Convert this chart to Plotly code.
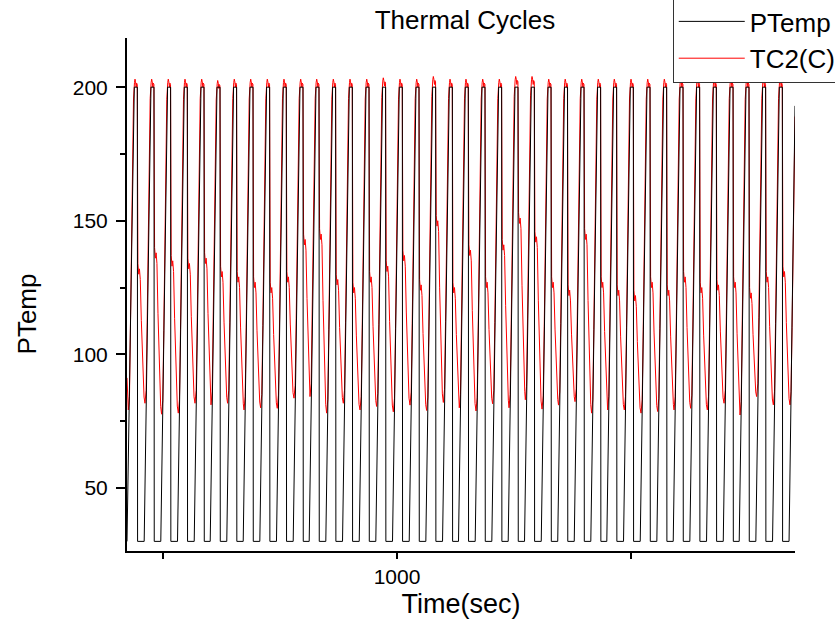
import plotly.graph_objects as go

# ---- Per-cycle readings (time in s, temperature in C) ----
# time of each TC2 peak
peak_time = [440.2, 475.8, 511.3, 547.0, 582.7, 616.9, 652.3, 687.4, 722.9, 758.5,
             794.2, 828.4, 863.9, 899.6, 935.3, 970.7, 1006.4, 1042.1, 1077.6, 1113.3,
             1147.4, 1183.1, 1218.6, 1253.6, 1288.5, 1324.2, 1359.4, 1394.7, 1430.1, 1464.3,
             1500.0, 1535.7, 1571.2, 1606.2, 1641.7, 1677.4, 1713.1, 1747.2, 1782.7, 1818.4]
# TC2 peak temperature of each cycle
peak_red = [203, 203, 203, 203, 203, 202.5, 203, 203, 203, 203,
            203, 203, 203, 203, 203, 203.5, 203, 203, 204, 203,
            203, 203, 203, 204, 204, 203, 203, 203, 203, 203,
            203, 203, 203, 203, 203, 203, 203, 203, 203, 203]
# TC2 shoulder temperature just after the heater switches off
shoulder_red = [134, 140, 137, 136, 138, 133, 131, 129, 127, 131,
                145, 147, 130, 127, 131, 135, 139, 128, 152, 127,
                141, 129, 143, 153, 146, 129, 126, 147, 129, 126,
                124, 129, 126, 131, 127, 128, 129, 125, 131, 133]
# TC2 minimum before each peak (last value: minimum after the final peak)
trough_red = [79.2, 81.7, 77.6, 78.0, 81.7, 81.1, 81.7, 79.2, 80.0, 79.8,
              83.6, 84.2, 78.0, 81.7, 79.2, 80.5, 78.5, 81.0, 79.0, 82.0,
              80.0, 78.8, 81.5, 80.0, 83.0, 79.5, 81.0, 82.3, 78.0, 79.2,
              79.2, 78.0, 78.6, 79.2, 79.8, 79.2, 81.7, 77.3, 84.2, 81.1,
              81.1]

# PTemp set levels
ptemp_low = 30
ptemp_high = 200

# record start / end
t_start = 423.1
t_end = 1850.4
red_start = 91.2
ptemp_start = 30

# partial heating ramp at the end of the record
red_tail_t = [1841.9, 1844.1, 1846.2, 1848.4, t_end]
red_tail_v = [86, 110, 145, 175, 189]
ptemp_tail_t = [1837.7, t_end]
ptemp_tail_v = [30, 193]

# ---- Shape of one cycle around its TC2 peak ----
# heating: offset from peak (s) and fraction of the trough->peak rise
rise_dt = [-14.3, -11.8, -9.6, -7.5, -5.3, -3.2, -1.1, 0.0]
rise_frac = [0.0, 0.04, 0.25, 0.54, 0.78, 0.94, 0.99, 1.0]
# top of the cycle: offset and drop below the peak
top_dt = [1.2, 2.5, 3.5, 4.8]
top_drop = [1.0, 3.0, 1.5, 2.0]
# shoulder after switch-off: offset and offset from shoulder value
shoulder_dt = [6.2, 8.0, 9.5, 11.3]
shoulder_off = [0, -4, -2, -6]
# cooling: offset and fraction of the shoulder->next trough drop
decay_dt = [13.5, 15.5, 17.5, 19.3]
decay_frac = [0.33, 0.60, 0.82, 0.95]
trough_after_dt = 21.3
# PTemp: ramp start, top reached, switch-off and low level offsets
ptemp_ramp_dt = -16.0
ptemp_top_dt = -1.5
ptemp_off_dt = 5.0
ptemp_low_dt = 5.5

# ---- Build TC2 series ----
red_t, red_v = [t_start], [red_start]
n = len(peak_time)
for k in range(n):
    tp, P, S, M = peak_time[k], peak_red[k], shoulder_red[k], trough_red[k]
    for dt, f in zip(rise_dt, rise_frac):
        red_t.append(tp + dt)
        red_v.append(M + f * (P - M))
    for dt, d in zip(top_dt, top_drop):
        red_t.append(tp + dt)
        red_v.append(P - d)
    for dt, o in zip(shoulder_dt, shoulder_off):
        red_t.append(tp + dt)
        red_v.append(S + o)
    M_next = trough_red[k + 1]
    s_end = S + shoulder_off[-1]
    for dt, f in zip(decay_dt, decay_frac):
        red_t.append(tp + dt)
        red_v.append(s_end + f * (M_next - s_end))
red_t.append(peak_time[-1] + trough_after_dt)
red_v.append(trough_red[-1])
red_t += red_tail_t
red_v += red_tail_v

# ---- Build PTemp series ----
pt_t, pt_v = [t_start], [ptemp_start]
for k in range(n):
    tp = peak_time[k]
    if k > 0:
        pt_t.append(tp + ptemp_ramp_dt)
        pt_v.append(ptemp_low)
    pt_t += [tp + ptemp_top_dt, tp + ptemp_off_dt, tp + ptemp_low_dt]
    pt_v += [ptemp_high, ptemp_high, ptemp_low]
pt_t += ptemp_tail_t
pt_v += ptemp_tail_v

font_family = "Liberation Sans, Arial, sans-serif"

fig = go.Figure()
fig.add_trace(go.Scatter(x=red_t, y=red_v, mode="lines", name="TC2(C)",
                         line=dict(color="#ff0000", width=1), legendrank=2))
fig.add_trace(go.Scatter(x=pt_t, y=pt_v, mode="lines", name="PTemp",
                         line=dict(color="#000000", width=1), legendrank=1))

fig.update_layout(
    width=835, height=625,
    margin=dict(l=127, r=40, t=38, b=74, autoexpand=False),
    paper_bgcolor="white", plot_bgcolor="white",
    font=dict(family=font_family, color="#000000"),
    title=dict(text="Thermal Cycles", x=0.506, xref="paper", xanchor="center",
               y=0.968, yref="container", yanchor="middle",
               font=dict(size=26, family=font_family, color="#000000")),
    showlegend=True,
    legend=dict(x=0.817, xanchor="left", y=0.9123, yanchor="bottom",
                bgcolor="white", bordercolor="#333333", borderwidth=1,
                font=dict(size=26, family=font_family, color="#000000"),
                itemwidth=66, tracegroupgap=0),
    xaxis=dict(range=[t_start, t_end], showgrid=False, zeroline=False,
               showline=True, linecolor="#000000", linewidth=2,
               ticks="outside", ticklen=6, tickwidth=1.5, tickcolor="#000000",
               tickvals=[500, 1000, 1500], ticktext=["", "1000", ""],
               tickfont=dict(size=21, family=font_family, color="#000000"),
               title=dict(text="Time(sec)", standoff=7,
                          font=dict(size=27, family=font_family, color="#000000"))),
    yaxis=dict(range=[26.4, 218.4], showgrid=False, zeroline=False,
               showline=True, linecolor="#000000", linewidth=2,
               ticks="outside", ticklen=9, tickwidth=1.5, tickcolor="#000000",
               tickvals=[50, 100, 150, 200],
               minor=dict(tickvals=[75, 125, 175], ticks="outside", ticklen=5,
                          tickwidth=1.5, tickcolor="#000000"),
               ticklabelstandoff=4,
               tickfont=dict(size=21, family=font_family, color="#000000")),
    annotations=[dict(text="PTemp", xref="paper", yref="paper",
                      x=-0.149, y=0.462, xanchor="center", yanchor="middle",
                      textangle=-90, showarrow=False,
                      font=dict(size=26, family=font_family, color="#000000"))],
)

fig.write_html("out.html")
